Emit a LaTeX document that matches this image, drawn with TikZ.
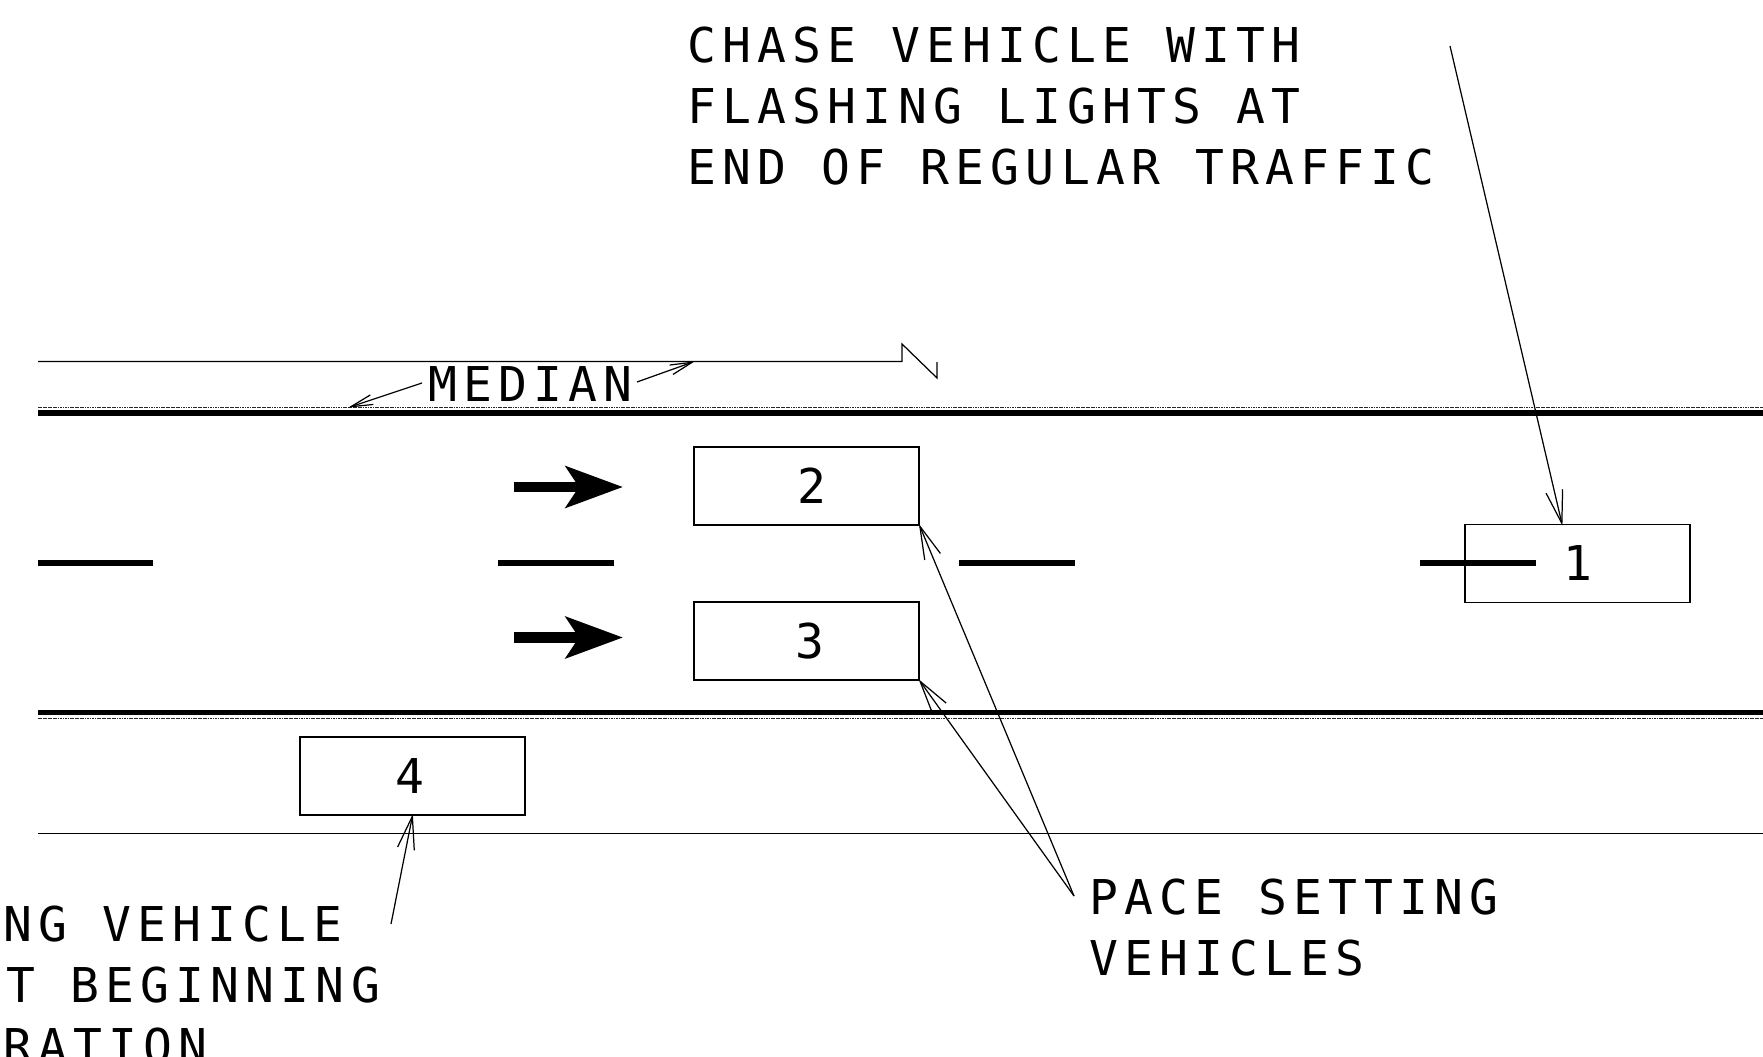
\documentclass[tikz,border=0pt]{standalone}
\usepackage{fontspec}
\usepackage{tikz}
\usetikzlibrary{arrows.meta,calc}
\newfontfamily\platefont[LetterSpace=13]{DejaVu Sans Mono}
\tikzset{
  carbox/.style={rectangle, draw=black, fill=none, line width=0.7pt, minimum width=4.5cm, minimum height=1.56cm,
    inner sep=0pt, align=center, font=\platefont\fontsize{27.3}{34.7}\selectfont},
  notetext/.style={inner sep=0pt, align=left, font=\platefont\fontsize{27.3}{34.7}\selectfont},
  roadline/.style={draw=black, line width=0.7pt},
  edgeline/.style={draw=black, line width=3.4pt},
  shoulderline/.style={draw=black!85, line width=1pt, dash pattern=on 1pt off 0.4pt},
  laneline/.style={draw=black, line width=3.2pt},
  leaderarrow/.style={-{Straight Barb[length=0.66cm,width=0.34cm,line width=0.7pt]}, draw=black, line width=0.7pt, shorten >=-1pt},
  medianarrow/.style={-{Straight Barb[length=0.44cm,width=0.2cm,line width=0.7pt]}, draw=black, line width=0.7pt, shorten >=-1pt},
  flowarrow/.style={-{Stealth[length=1.14cm,width=0.82cm,inset=0.26cm]}, draw=black, line width=6pt},
}
\begin{document}
\begin{tikzpicture}[x=0.02cm,y=-0.02cm]
  \path[use as bounding box, clip] (0,0) rectangle (1763,1057);

  % road
  \draw[roadline] (38,361.5) -- (902,361.5) -- (902,344) -- (937,378) -- (937,362);
  \draw[shoulderline] (38,407.5) -- (1763,407.5);
  \draw[edgeline] (38,413) -- (1763,413);
  \draw[edgeline] (38,712.5) -- (1763,712.5);
  \draw[shoulderline] (38,718.5) -- (1763,718.5);
  \draw[roadline] (38,833.5) -- (1763,833.5);

  \draw[laneline] (38,563) -- (153,563);
  \draw[laneline] (498,563) -- (614,563);
  \draw[laneline] (959,563) -- (1075,563);
  \draw[laneline] (1420,563) -- (1536,563);

  % vehicles
  \node[carbox] (car1) at (1577.5,563.5) {\raisebox{1.1pt}{1}};
  \node[carbox] (car2) at (806.5,486) {\hspace*{6.4pt}2};
  \node[carbox] (car3) at (806.5,641) {\hspace*{3.9pt}3};
  \node[carbox] (car4) at (412.5,776) {4\hspace*{2.4pt}};

  % direction of travel
  \coordinate (flow1a) at (514,487);
  \coordinate (flow1b) at (623,487);
  \coordinate (flow2a) at (514,637.5);
  \coordinate (flow2b) at (623,637.5);
  \draw[flowarrow] (flow1a) -- (flow1b);
  \draw[flowarrow] (flow2a) -- (flow2b);

  % labels
  \node[notetext, anchor=north west] (chase) at (687,27) {CHASE VEHICLE WITH\\FLASHING LIGHTS AT\\END OF REGULAR TRAFFIC};
  \node[notetext, anchor=north west] (pace) at (1089,879) {PACE SETTING\\VEHICLES};
  \node[notetext, anchor=north west] (lead) at (3,906) {NG VEHICLE\\\hspace*{1.6pt}T BEGINNING\\RATION};
  \node[notetext, anchor=base west] (median) at (428,401) {MEDIAN};

  % leaders
  \coordinate (chasefrom) at (1450,46);
  \coordinate (chaseto) at (1562,524);
  \coordinate (leadfrom) at (391,924);
  \coordinate (pacefrom) at (1074,896);
  \coordinate (medfroml) at (422,383);
  \coordinate (medtol) at (350,407);
  \coordinate (medfromr) at (637,382);
  \coordinate (medtor) at (693,362);
  \draw[leaderarrow] (chasefrom) -- (chaseto);
  \draw[leaderarrow] (leadfrom) -- (car4.south);
  \draw[leaderarrow] (pacefrom) -- (car2.south east);
  \draw[leaderarrow] (pacefrom) -- (car3.south east);
  \draw[medianarrow] (medfroml) -- (medtol);
  \draw[medianarrow] (medfromr) -- (medtor);
\end{tikzpicture}
\end{document}
